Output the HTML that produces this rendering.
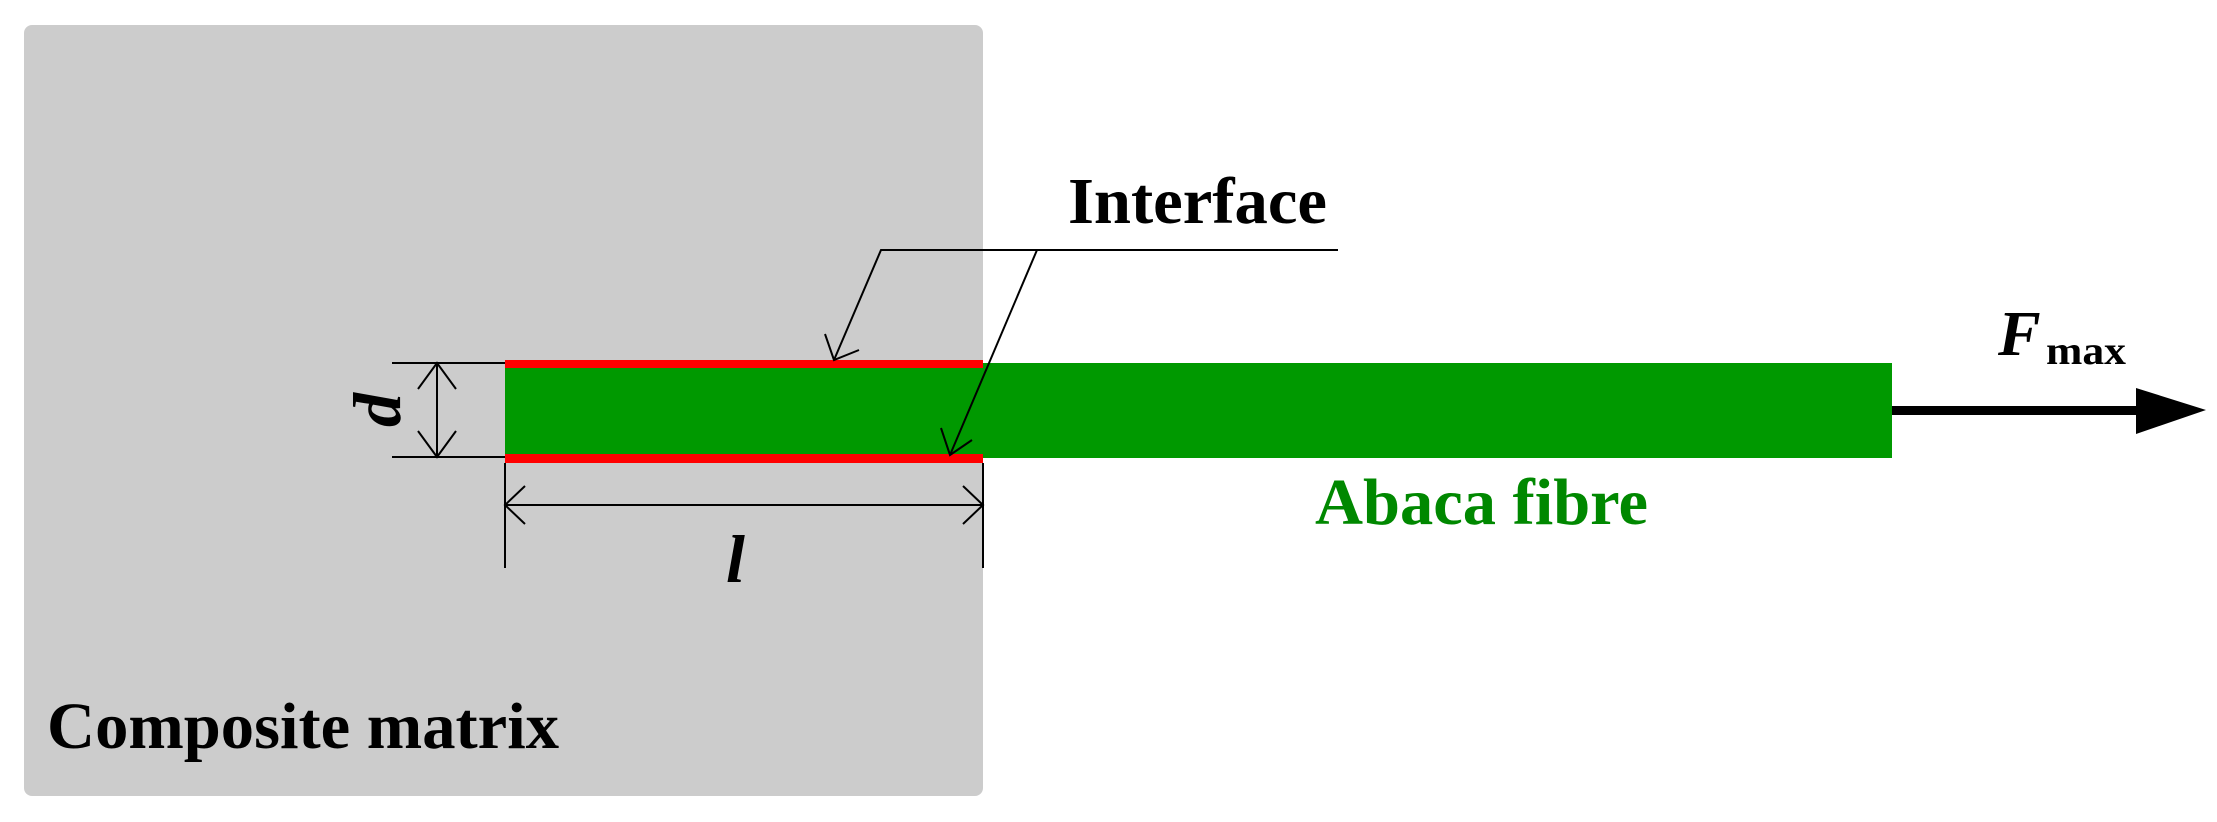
<!DOCTYPE html>
<html><head><style>
html,body{margin:0;padding:0;background:#fff;}
svg{display:block;}
text{font-family:"Liberation Serif",serif;font-weight:bold;}
</style></head><body>
<svg width="2217" height="822" viewBox="0 0 2217 822" xmlns="http://www.w3.org/2000/svg">
<rect x="24" y="25" width="959" height="771" rx="8" fill="#cccccc"/>
<rect x="505" y="363" width="1387" height="95" fill="#009900"/>
<rect x="505" y="360" width="478" height="8" fill="#ff0000"/>
<rect x="505" y="454" width="478" height="9" fill="#ff0000"/>
<g stroke="#000" stroke-width="2" fill="none">
<line x1="392" y1="363" x2="505" y2="363"/>
<line x1="392" y1="457" x2="505" y2="457"/>
<line x1="437" y1="363" x2="437" y2="457"/>
<polyline points="418,389 437,363 456,389"/>
<polyline points="418,431 437,457 456,431"/>
<line x1="505" y1="463" x2="505" y2="568"/>
<line x1="983" y1="463" x2="983" y2="568"/>
<line x1="505" y1="505" x2="983" y2="505"/>
<polyline points="525,486 505,505 525,524"/>
<polyline points="963,486 983,505 963,524"/>
<polyline points="1338,250 881,250 834,360"/>
<polyline points="825,334 834,360 859,350"/>
<polyline points="1037,250 950,455"/>
<polyline points="941,428 950,455 972,440"/>
</g>
<rect x="1892" y="406" width="246" height="9" fill="#000"/>
<polygon points="2136,388 2206,410 2136,434" fill="#000"/>
<text x="1068" y="223" font-size="66" textLength="259" lengthAdjust="spacingAndGlyphs" fill="#000">Interface</text>
<text x="1315" y="524" font-size="66" textLength="333" lengthAdjust="spacingAndGlyphs" fill="#008800">Abaca fibre</text>
<text x="47" y="748" font-size="66" textLength="512" lengthAdjust="spacingAndGlyphs" fill="#000">Composite matrix</text>
<text x="726" y="582" font-size="68" font-style="italic" fill="#000">l</text>
<text transform="translate(400,410) rotate(-90)" text-anchor="middle" font-size="68" font-style="italic" fill="#000">d</text>
<text x="1998" y="355" font-size="64" font-style="italic" fill="#000">F</text>
<text x="2046" y="364" font-size="40" textLength="80" lengthAdjust="spacingAndGlyphs" fill="#000">max</text>
</svg>
</body></html>
